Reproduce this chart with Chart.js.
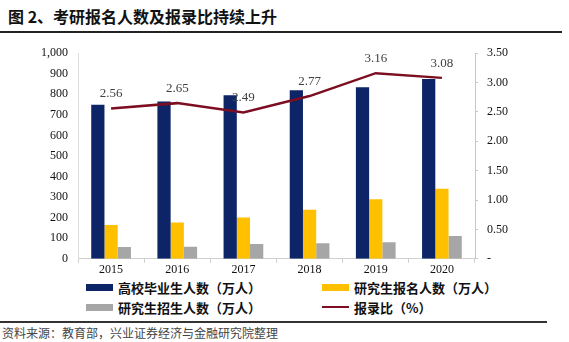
<!DOCTYPE html>
<html>
<head>
<meta charset="utf-8">
<script src="https://cdn.jsdelivr.net/npm/chart.js@4/dist/chart.umd.min.js"></script>
<style>
  body { margin: 0; width: 569px; height: 342px; background: #fff; position: relative; overflow: hidden; }
  #title { position: absolute; left: 8px; top: 4px; font: bold 16px "Noto Sans CJK SC"; color: #111; }
  #rule1 { position: absolute; left: 0; top: 31px; width: 562px; height: 2px; background: #222; }
  #wrap { position: absolute; left: 0; top: 36px; width: 569px; height: 240px; }
  #legend { position: absolute; left: 86px; top: 278px; display: grid; grid-template-columns: 236px 236px; row-gap: 2px; font: bold 13px "Noto Sans CJK SC"; color: #111; }
  #legend div { display: flex; align-items: center; height: 18px; }
  #legend span.sw { display: inline-block; width: 27px; margin-right: 5px; }
  #rule2 { position: absolute; left: 0; top: 321px; width: 547px; height: 2px; background: #333; }
  #source { position: absolute; left: 2px; top: 324px; font: 12px "Noto Sans CJK SC"; color: #444; }
</style>
</head>
<body>
<div id="title">图 2、考研报名人数及报录比持续上升</div>
<div id="rule1"></div>
<div id="wrap"><canvas id="chart"></canvas></div>
<div id="legend"></div>
<div id="rule2"></div>
<div id="source">资料来源：教育部，兴业证券经济与金融研究院整理</div>
<script>
const years = ["2015", "2016", "2017", "2018", "2019", "2020"];
const graduates = [749, 765, 795, 820, 834, 874];
const applicants = [165, 177, 201, 238, 290, 341];
const admitted = [57, 59, 72, 76, 81, 111];
const ratio = [2.56, 2.65, 2.49, 2.77, 3.16, 3.08];

const serif = "'Liberation Serif', 'Times New Roman', serif";

const pointLabels = {
  id: "pointLabels",
  afterDatasetsDraw(chart) {
    const ctx = chart.ctx;
    const meta = chart.getDatasetMeta(3);
    ctx.save();
    ctx.font = "13px " + serif;
    ctx.fillStyle = "#404040";
    ctx.textAlign = "center";
    ctx.textBaseline = "bottom";
    meta.data.forEach((pt, i) => {
      ctx.fillText(ratio[i].toFixed(2), pt.x, pt.y - 8);
    });
    ctx.restore();
  }
};

const chart = new Chart(document.getElementById("chart"), {
  type: "bar",
  data: {
    labels: years,
    datasets: [
      { label: "高校毕业生人数（万人）", data: graduates, backgroundColor: "#0D2466", yAxisID: "y", order: 1 },
      { label: "研究生报名人数（万人）", data: applicants, backgroundColor: "#FFC000", yAxisID: "y", order: 1 },
      { label: "研究生招生人数（万人）", data: admitted, backgroundColor: "#A6A6A6", yAxisID: "y", order: 1 },
      { label: "报录比（%）", type: "line", data: ratio, borderColor: "#7D0E22", borderWidth: 2.5,
        pointRadius: 0, tension: 0, yAxisID: "y1", order: 0 }
    ]
  },
  options: {
    responsive: true,
    maintainAspectRatio: false,
    animation: false,
    layout: { padding: { top: 12, left: 0, right: 0, bottom: 0 } },
    datasets: { bar: { barPercentage: 1, categoryPercentage: 0.6 } },
    plugins: { legend: { display: false }, tooltip: { enabled: false } },
    scales: {
      x: {
        grid: { display: true, offset: true, drawOnChartArea: false, tickLength: 4, color: "#d0d0d0" },
        border: { color: "#d0d0d0" },
        ticks: { font: { family: serif, size: 12 }, color: "#111", padding: 0 },
        afterFit(s) { s.height = 17; }
      },
      y: {
        position: "left",
        min: 0, max: 1000,
        grid: { display: false, drawTicks: false },
        border: { display: true, color: "#dcdcdc" },
        ticks: { stepSize: 100, font: { family: serif, size: 12 }, color: "#111", padding: 10,
          callback: v => v.toLocaleString("en-US") },
        afterFit(s) { s.width = 78; }
      },
      y1: {
        position: "right",
        min: 0, max: 3.5,
        grid: { display: true, drawOnChartArea: false, tickLength: 3, color: "#c8c8c8" },
        border: { display: true, color: "#c8c8c8" },
        ticks: { stepSize: 0.5, font: { family: serif, size: 12 }, color: "#111", padding: 9,
          callback: v => v === 0 ? "-" : v.toFixed(2) },
        afterFit(s) { s.width = 94; }
      }
    }
  },
  plugins: [pointLabels]
});

const legend = document.getElementById("legend");
const legendOrder = [0, 1, 2, 3];
legendOrder.forEach(i => {
  const ds = chart.data.datasets[i];
  const item = document.createElement("div");
  const sw = document.createElement("span");
  sw.className = "sw";
  if (ds.type === "line") {
    sw.style.height = "2px";
    sw.style.background = ds.borderColor;
  } else {
    sw.style.height = "7px";
    sw.style.background = ds.backgroundColor;
  }
  item.appendChild(sw);
  item.appendChild(document.createTextNode(ds.label));
  legend.appendChild(item);
});
</script>
</body>
</html>
